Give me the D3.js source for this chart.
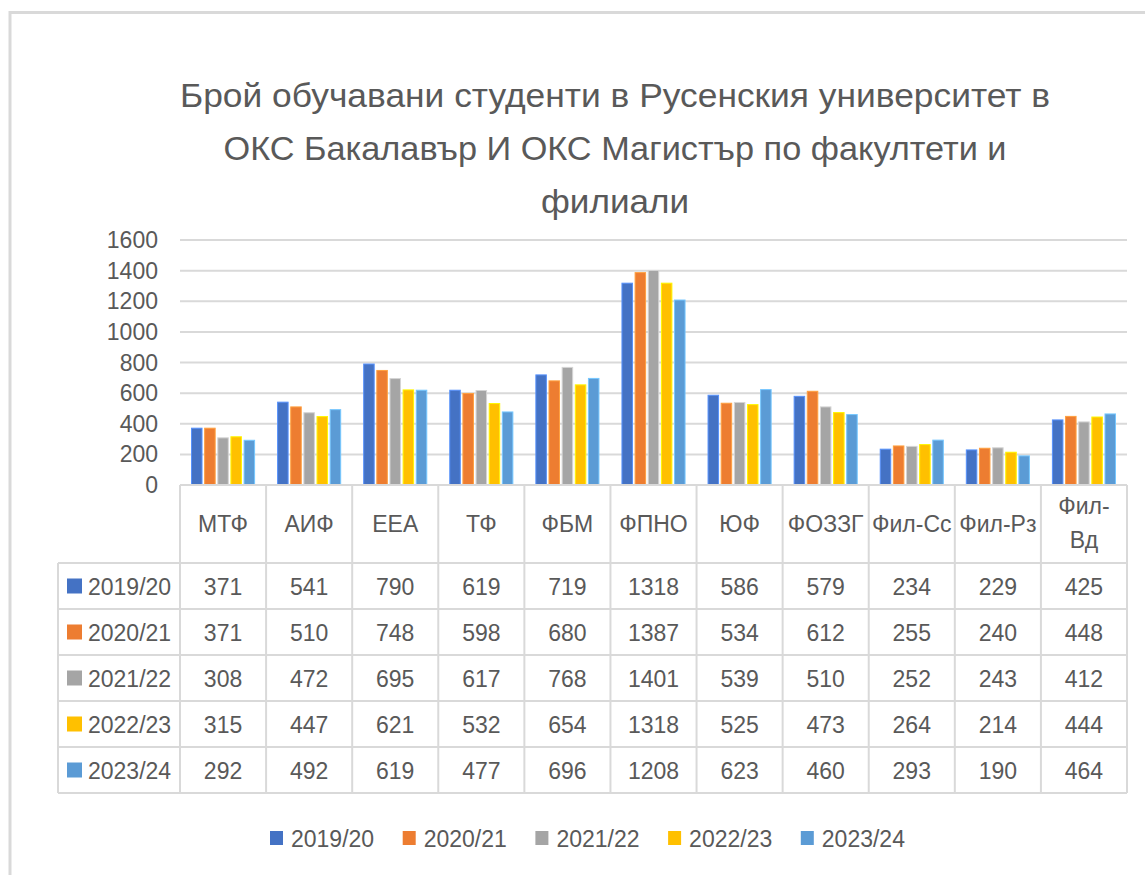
<!DOCTYPE html>
<html><head><meta charset="utf-8">
<script src="https://cdn.jsdelivr.net/npm/d3@7"></script>
<style>
html,body{margin:0;padding:0;background:#fff;}
svg text{font-family:"Liberation Sans Narrow","Liberation Sans",Arial,sans-serif;fill:#595959;}
</style></head>
<body>
<svg id="chart" width="1145" height="875"></svg>
<script>
const titleLines = ["Брой обучавани студенти в Русенския университет в","ОКС Бакалавър И ОКС Магистър по факултети и","филиали"];
const categories = ["МТФ","АИФ","ЕЕА","ТФ","ФБМ","ФПНО","ЮФ","ФОЗЗГ","Фил-Сс","Фил-Рз","Фил-Вд"];
const seriesNames = ["2019/20","2020/21","2021/22","2022/23","2023/24"];
const s2019 = [371,541,790,619,719,1318,586,579,234,229,425];
const s2020 = [371,510,748,598,680,1387,534,612,255,240,448];
const s2021 = [308,472,695,617,768,1401,539,510,252,243,412];
const s2022 = [315,447,621,532,654,1318,525,473,264,214,444];
const s2023 = [292,492,619,477,696,1208,623,460,293,190,464];
const seriesValues = [s2019,s2020,s2021,s2022,s2023];
const colors = ["#4472C4","#ED7D31","#A5A5A5","#FFC000","#5B9BD5"];
const yTicks = [0,200,400,600,800,1000,1200,1400,1600];

const svg = d3.select("#chart");
const grid = "#d9d9d9";

// outer frame (top and left edges)
svg.append("line").attr("x1",10).attr("x2",1145).attr("y1",12.5).attr("y2",12.5).attr("stroke","#d9d9d9").attr("stroke-width",3);
svg.append("line").attr("x1",10).attr("x2",10).attr("y1",11).attr("y2",875).attr("stroke","#d9d9d9").attr("stroke-width",3);

// title
const titleBase = [107,160,213];
const titleWidths = [870,783,148];
titleLines.forEach((t,i)=>{
  svg.append("text").attr("x",615).attr("y",titleBase[i]).attr("text-anchor","middle")
    .attr("font-size",34).attr("textLength",titleWidths[i]).attr("lengthAdjust","spacingAndGlyphs").text(t);
});

const x = d3.scaleBand().domain(categories).range([180,1127]).padding(0);
const xs = d3.scaleBand().domain(seriesNames).range([11.5, x.bandwidth()-11.5]).paddingInner(0.2);
const y = d3.scaleLinear().domain([0,1600]).range([485,240]);

// gridlines
svg.append("g").selectAll("line").data(yTicks).join("line")
  .attr("x1",180).attr("x2",1127).attr("y1",d=>y(d)).attr("y2",d=>y(d))
  .attr("stroke",grid).attr("stroke-width",2);

// y labels
svg.append("g").selectAll("text").data(yTicks).join("text")
  .attr("x",158).attr("y",d=>y(d)+8).attr("text-anchor","end").attr("font-size",23).text(d=>d);

// bars
seriesNames.forEach((s,si)=>{
  svg.append("g").selectAll("rect").data(seriesValues[si]).join("rect")
    .attr("x",(d,i)=>x(categories[i])+xs(s))
    .attr("width",xs.bandwidth())
    .attr("y",d=>y(d))
    .attr("height",d=>y(0)-y(d))
    .attr("fill",colors[si])
    .attr("stroke",d3.color(colors[si]).brighter(0.7))
    .attr("stroke-width",1);
});

// table
const headerTop = 485, headerBottom = 563, rowH = 46;
const tableBottom = headerBottom + rowH*seriesNames.length;
const tg = svg.append("g");
tg.append("line").attr("x1",180).attr("x2",1127).attr("y1",headerTop).attr("y2",headerTop).attr("stroke",grid).attr("stroke-width",2);
d3.range(seriesNames.length+1).forEach(r=>{
  const yy = headerBottom + r*rowH;
  tg.append("line").attr("x1",58).attr("x2",1127).attr("y1",yy).attr("y2",yy).attr("stroke",grid).attr("stroke-width",2);
});
tg.append("line").attr("x1",58).attr("x2",58).attr("y1",headerBottom).attr("y2",tableBottom).attr("stroke",grid).attr("stroke-width",2);
categories.concat(["__end"]).forEach((c,i)=>{
  const xx = 180 + i*x.bandwidth();
  tg.append("line").attr("x1",xx).attr("x2",xx).attr("y1",headerTop).attr("y2",tableBottom).attr("stroke",grid).attr("stroke-width",2);
});
categories.forEach(c=>{
  const cx = x(c)+x.bandwidth()/2;
  const parts = (c==="Фил-Вд") ? ["Фил-","Вд"] : [c];
  if(parts.length===1){
    tg.append("text").attr("x",cx).attr("y",532).attr("text-anchor","middle").attr("font-size",23).text(c);
  } else {
    tg.append("text").attr("x",cx).attr("y",514).attr("text-anchor","middle").attr("font-size",23).text(parts[0]);
    tg.append("text").attr("x",cx).attr("y",548).attr("text-anchor","middle").attr("font-size",23).text(parts[1]);
  }
});
seriesNames.forEach((s,si)=>{
  const cy = headerBottom + si*rowH + rowH/2;
  tg.append("rect").attr("x",67).attr("y",cy-7.5).attr("width",15).attr("height",15).attr("fill",colors[si]);
  tg.append("text").attr("x",88).attr("y",cy+8.5).attr("font-size",23).text(s);
  seriesValues[si].forEach((v,i)=>{
    tg.append("text").attr("x",x(categories[i])+x.bandwidth()/2).attr("y",cy+8.5).attr("text-anchor","middle").attr("font-size",23).text(v);
  });
});

// bottom legend
const lx = d3.scaleBand().domain(seriesNames).range([270, 270+132.7*5]);
const lg = svg.append("g").selectAll("g").data(seriesNames).join("g").attr("transform",d=>`translate(${lx(d)},838)`);
lg.append("rect").attr("x",0).attr("y",-7).attr("width",13).attr("height",14).attr("fill",(d,i)=>colors[i]);
lg.append("text").attr("x",21).attr("y",8.5).attr("font-size",23).text(d=>d);
</script>
</body></html>
